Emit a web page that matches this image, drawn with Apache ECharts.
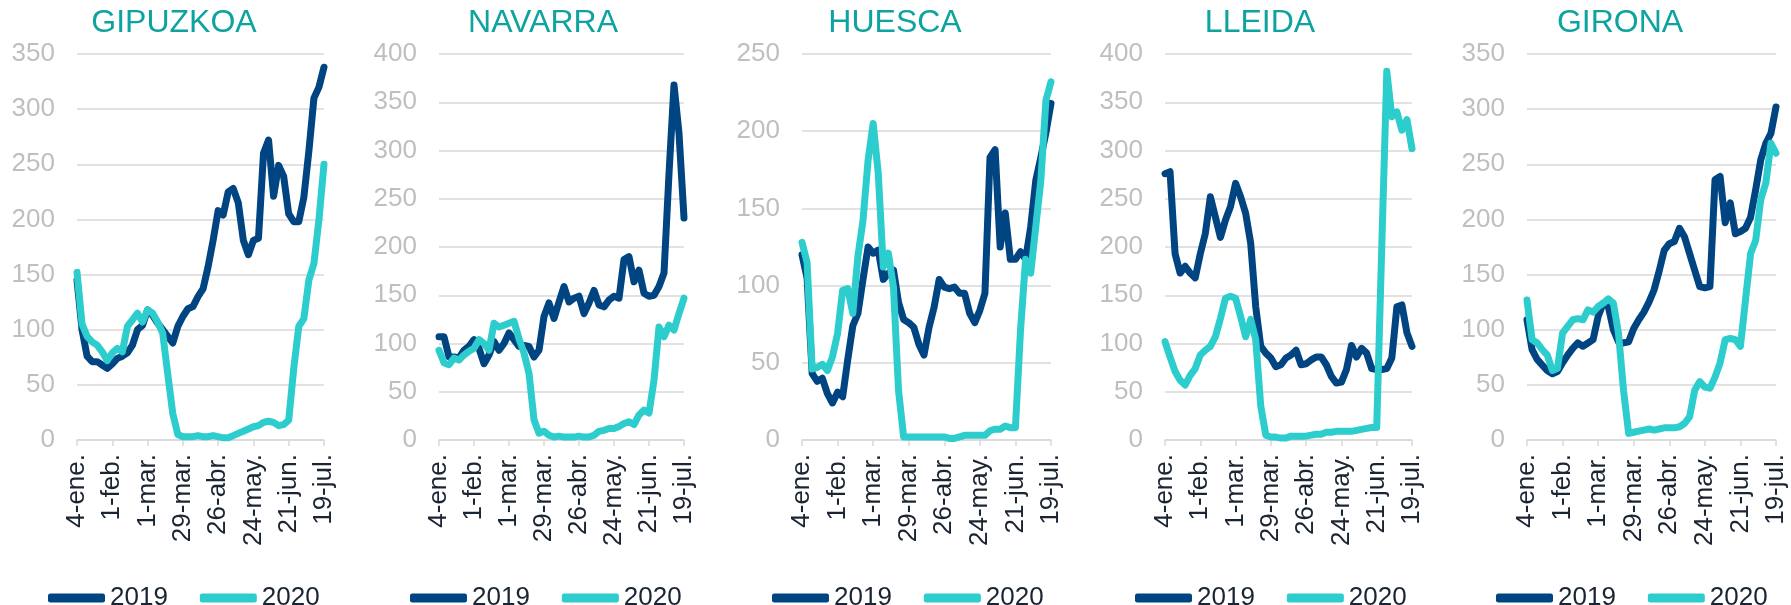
<!DOCTYPE html>
<html>
<head>
<meta charset="utf-8">
<script src="https://cdn.jsdelivr.net/npm/echarts@6/dist/echarts.min.js"></script>
<style>
  html, body { margin: 0; padding: 0; background: #fff; }
  #main { width: 1791px; height: 605px; }
</style>
</head>
<body>
<div id="main"></div>
<script>
// fechas cada 4 días, del 4-ene. al 19-jul.
var dates = ['4-ene.', '8-ene.', '12-ene.', '16-ene.', '20-ene.', '24-ene.', '28-ene.',
  '1-feb.', '5-feb.', '9-feb.', '13-feb.', '17-feb.', '21-feb.', '25-feb.',
  '1-mar.', '5-mar.', '9-mar.', '13-mar.', '17-mar.', '21-mar.', '25-mar.',
  '29-mar.', '2-abr.', '6-abr.', '10-abr.', '14-abr.', '18-abr.', '22-abr.',
  '26-abr.', '30-abr.', '4-may.', '8-may.', '12-may.', '16-may.', '20-may.',
  '24-may.', '28-may.', '1-jun.', '5-jun.', '9-jun.', '13-jun.', '17-jun.',
  '21-jun.', '25-jun.', '29-jun.', '3-jul.', '7-jul.', '11-jul.', '15-jul.', '19-jul.']

var seriesNames = ['2019', '2020']

var gipuzkoa2019 = [145, 100, 76, 71, 71, 68, 65, 69, 74, 76, 79, 86, 100, 104, 118, 113, 106, 100, 94, 88,
  103, 112, 119, 121, 130, 137, 157, 181, 208, 204, 225, 228, 215, 181, 168, 181, 183, 260, 272, 221,
  249, 239, 205, 198, 198, 220, 262, 310, 320, 338]
var gipuzkoa2020 = [152, 105, 94, 89, 86, 80, 72, 79, 83, 80, 103, 109, 115, 107, 118, 115, 107, 97, 60, 24,
  5, 3, 3, 3, 4, 3, 3, 4, 3, 2, 2, 4, 6, 8, 10, 12, 13, 16, 17, 16,
  13, 14, 18, 65, 103, 110, 145, 160, 200, 250]

var navarra2019 = [107, 107, 86, 86, 85, 93, 97, 104, 95, 79, 88, 102, 93, 100, 111, 104, 97, 98, 97, 86,
  93, 128, 142, 126, 143, 159, 143, 147, 149, 131, 142, 155, 140, 138, 145, 149, 147, 187, 190, 164,
  176, 152, 149, 150, 159, 173, 276, 368, 318, 230]
var navarra2020 = [93, 80, 78, 85, 83, 88, 92, 95, 104, 100, 93, 121, 117, 119, 121, 123, 105, 90, 69, 21,
  7, 9, 5, 3, 4, 3, 3, 3, 4, 3, 3, 5, 9, 10, 12, 12, 14, 17, 19, 16,
  26, 31, 28, 62, 117, 107, 119, 114, 131, 147]

var huesca2019 = [120, 105, 43, 38, 40, 30, 24, 31, 28, 52, 74, 82, 104, 125, 121, 123, 104, 108, 110, 89,
  78, 76, 73, 62, 55, 73, 86, 104, 99, 98, 99, 95, 95, 82, 76, 84, 95, 183, 188, 125,
  147, 117, 117, 122, 117, 138, 168, 183, 199, 218]
var huesca2020 = [128, 115, 46, 47, 49, 45, 54, 69, 97, 98, 82, 119, 142, 181, 205, 173, 112, 121, 99, 32,
  2, 2, 2, 2, 2, 2, 2, 2, 2, 1, 1, 2, 3, 3, 3, 3, 3, 6, 7, 7,
  9, 8, 8, 71, 117, 108, 138, 168, 220, 232]

var lleida2019 = [276, 278, 193, 173, 180, 173, 168, 193, 214, 252, 231, 210, 228, 242, 266, 252, 235, 204, 138, 97,
  90, 85, 76, 78, 85, 88, 93, 78, 79, 83, 86, 86, 78, 66, 59, 60, 73, 98, 86, 95,
  90, 74, 73, 73, 74, 85, 138, 140, 111, 97]
var lleida2020 = [102, 86, 71, 62, 57, 67, 74, 88, 93, 97, 107, 126, 147, 149, 147, 128, 107, 125, 104, 35,
  5, 3, 3, 2, 2, 4, 4, 4, 4, 5, 6, 6, 8, 8, 9, 9, 9, 9, 10, 11,
  12, 13, 13, 200, 382, 335, 340, 321, 332, 302]

var girona2019 = [109, 82, 73, 68, 63, 60, 62, 70, 77, 83, 88, 85, 88, 91, 112, 124, 121, 100, 89, 88,
  89, 101, 109, 116, 125, 136, 153, 172, 178, 180, 192, 184, 169, 154, 139, 138, 139, 236, 239, 197,
  215, 187, 189, 192, 202, 227, 254, 269, 278, 302]
var girona2020 = [127, 91, 88, 82, 77, 63, 65, 97, 103, 109, 110, 109, 118, 116, 121, 124, 128, 124, 97, 45,
  6, 7, 8, 9, 10, 9, 10, 11, 11, 11, 12, 15, 21, 45, 53, 48, 47, 57, 70, 91,
  92, 91, 85, 127, 169, 181, 218, 233, 269, 260]

var panels = [
  { title: 'GIPUZKOA', max: 350, d2019: gipuzkoa2019, d2020: gipuzkoa2020, left: 77, width: 247, titleX: 169, legendX: 43 },
  { title: 'NAVARRA', max: 400, d2019: navarra2019, d2020: navarra2020, left: 439, width: 245, titleX: 538, legendX: 405 },
  { title: 'HUESCA', max: 250, d2019: huesca2019, d2020: huesca2020, left: 802, width: 249, titleX: 890, legendX: 767 },
  { title: 'LLEIDA', max: 400, d2019: lleida2019, d2020: lleida2020, left: 1165, width: 247, titleX: 1255, legendX: 1130 },
  { title: 'GIRONA', max: 350, d2019: girona2019, d2020: girona2020, left: 1527, width: 249, titleX: 1615, legendX: 1491 }
]

var font = '"Liberation Sans", Arial, sans-serif'
var navy = '#004481', aqua = '#2DCCCD', grey = '#D9D9D9'

var option = {
  backgroundColor: '#fff',
  animation: false,
  textStyle: { fontFamily: font },
  title: [], legend: [], grid: [], xAxis: [], yAxis: [], series: []
}

panels.forEach(function (p, i) {
  option.title.push({
    text: p.title, left: p.titleX, top: 2, textAlign: 'center',
    textStyle: { color: '#0FA3A0', fontSize: 32, fontWeight: 'normal', fontFamily: font }
  })
  option.legend.push({
    data: seriesNames, left: p.legendX, top: 580, selectedMode: false,
    icon: 'roundRect', itemWidth: 57, itemHeight: 9, itemGap: 32,
    textStyle: { fontSize: 26, color: '#1B2433', fontFamily: font }
  })
  option.grid.push({ left: p.left, width: p.width, top: 54, height: 386 })
  option.xAxis.push({
    gridIndex: i, type: 'category', boundaryGap: false, data: dates,
    axisLine: { lineStyle: { color: grey, width: 1.5 } },
    axisTick: { show: true, interval: 6, length: 6, lineStyle: { color: grey, width: 1.5 } },
    axisLabel: { interval: 6, rotate: 90, fontSize: 26, color: '#1B2433', margin: 14, fontFamily: font }
  })
  option.yAxis.push({
    gridIndex: i, type: 'value', min: 0, max: p.max, interval: 50,
    axisLine: { show: false }, axisTick: { show: false },
    splitLine: { lineStyle: { color: grey, width: 1.5 } },
    axisLabel: { fontSize: 26, color: '#BFBFBF', margin: 22, fontFamily: font }
  })
  option.series.push({
    name: '2019', type: 'line', xAxisIndex: i, yAxisIndex: i, data: p.d2019,
    symbol: 'none', color: navy,
    lineStyle: { width: 7, color: navy, cap: 'round', join: 'round' }
  })
  option.series.push({
    name: '2020', type: 'line', xAxisIndex: i, yAxisIndex: i, data: p.d2020,
    symbol: 'none', color: aqua,
    lineStyle: { width: 7, color: aqua, cap: 'round', join: 'round' }
  })
})

var myChart = echarts.init(document.getElementById('main'))
myChart.setOption(option)
</script>
</body>
</html>
